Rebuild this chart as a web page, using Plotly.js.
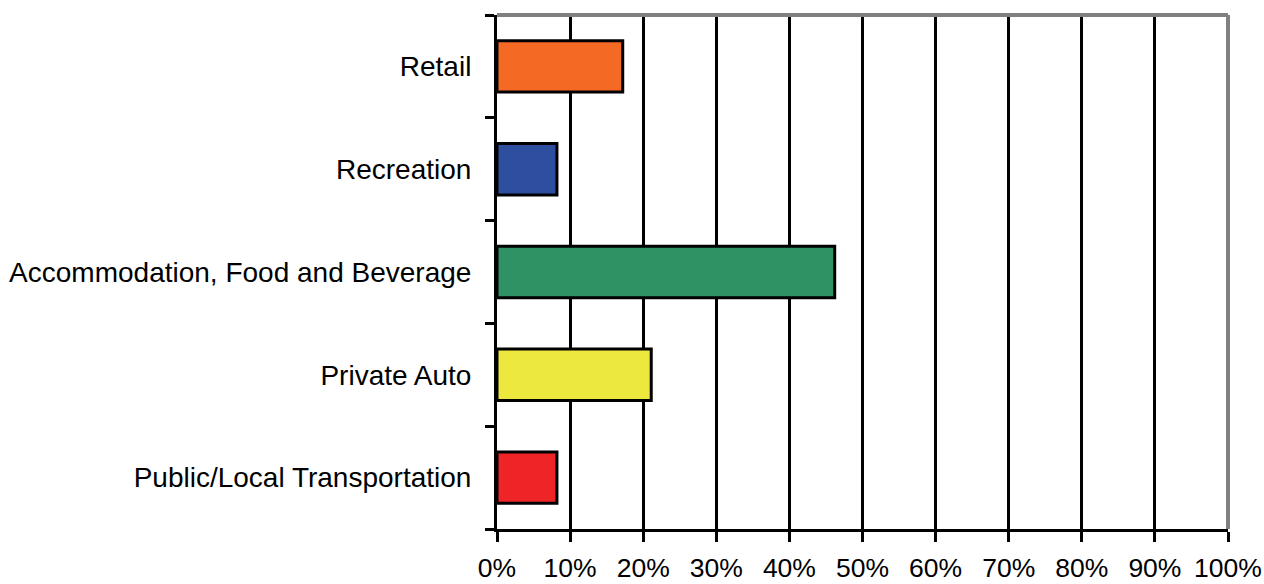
<!DOCTYPE html>
<html>
<head>
<meta charset="utf-8">
<script src="https://cdn.plot.ly/plotly-3.0.1.min.js"></script>
<style>html,body{margin:0;padding:0;background:#fff;}#chart{width:1264px;height:584px;}</style>
</head>
<body>
<div id="chart"></div>
<script>
const categories = ["Public/Local Transportation", "Private Auto", "Accommodation, Food and Beverage", "Recreation", "Retail"];
const shares = [0.082, 0.211, 0.462, 0.082, 0.172];
const barColors = ["#EE2427", "#EDE83E", "#2E9265", "#2E4FA0", "#F46A24"];
const xTickVals = [0, 0.1, 0.2, 0.3, 0.4, 0.5, 0.6, 0.7, 0.8, 0.9, 1.0];
const xTickText = ["0%", "10%", "20%", "30%", "40%", "50%", "60%", "70%", "80%", "90%", "100%"];

const trace = {
  type: "bar",
  orientation: "h",
  y: categories,
  x: shares,
  width: 0.5,
  marker: { color: barColors, line: { color: "#000", width: 3 } },
  hoverinfo: "none"
};

const layout = {
  width: 1264, height: 584,
  margin: { l: 497, r: 36, t: 15, b: 55 },
  paper_bgcolor: "#fff", plot_bgcolor: "#fff",
  showlegend: false,
  font: { family: "Liberation Sans, Arial, sans-serif", size: 28, color: "#000" },
  xaxis: {
    range: [0, 1],
    tickvals: xTickVals, ticktext: xTickText,
    tickfont: { size: 26.5 },
    showgrid: true, gridcolor: "#000", gridwidth: 3,
    zeroline: false,
    showline: true, linecolor: "#000", linewidth: 3,
    ticks: "outside", ticklen: 10, tickwidth: 3, tickcolor: "#000",
    ticklabelstandoff: 3,
    fixedrange: true
  },
  yaxis: {
    type: "category",
    range: [-0.5, 4.5],
    tickfont: { size: 28 },
    showgrid: false, zeroline: false,
    showline: true, linecolor: "#000", linewidth: 3,
    ticks: "outside", ticklen: 9, tickwidth: 3, tickcolor: "#000",
    tickson: "boundaries",
    ticklabelstandoff: 17,
    fixedrange: true
  },
  shapes: [
    { type: "line", xref: "paper", yref: "paper", x0: 0, x1: 1, y0: 1, y1: 1, line: { color: "#808080", width: 4 } },
    { type: "line", xref: "paper", yref: "paper", x0: 1, x1: 1, y0: 0, y1: 1, line: { color: "#808080", width: 4 } }
  ]
};

Plotly.newPlot("chart", [trace], layout, { displayModeBar: false, staticPlot: true });
</script>
</body>
</html>
